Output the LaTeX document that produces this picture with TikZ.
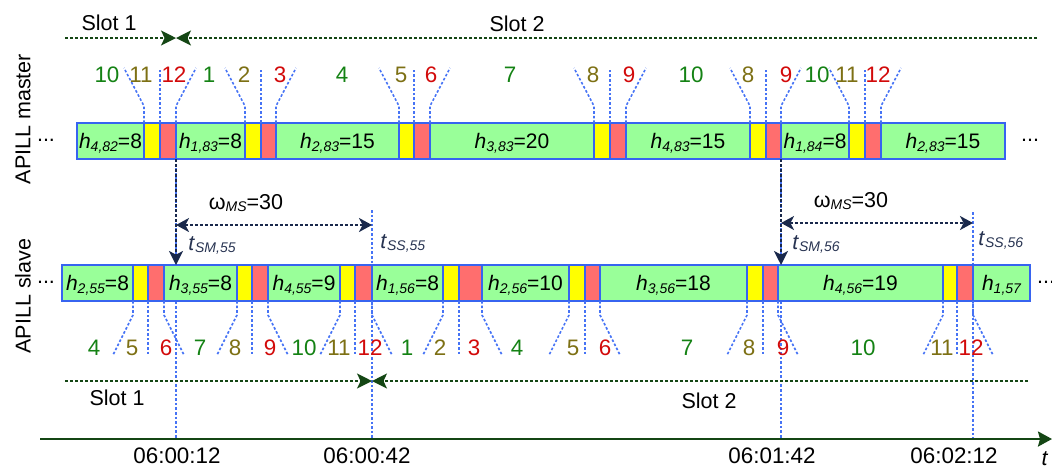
\documentclass[tikz,border=0pt]{standalone}
\usepackage{fontspec}
\setmainfont{Liberation Sans}
\usetikzlibrary{arrows.meta}

\definecolor{segblue}{RGB}{55,100,240}
\definecolor{guideblue}{RGB}{70,115,245}
\definecolor{segG}{RGB}{153,255,153}
\definecolor{segY}{RGB}{255,255,0}
\definecolor{segR}{RGB}{255,110,110}
\definecolor{numG}{RGB}{20,130,20}
\definecolor{numO}{RGB}{125,112,20}
\definecolor{numR}{RGB}{210,10,10}
\definecolor{navy}{RGB}{25,40,75}
\definecolor{tlab}{RGB}{40,52,82}
\definecolor{dkgreen}{RGB}{20,70,20}

\pgfdeclarelayer{behind}
\pgfsetlayers{behind,main}

% italic subscript
\newcommand\sbs[1]{\raisebox{-1.4pt}{\fontsize{7}{8}\selectfont\itshape #1}}
% one timeline segment: name, style, left x, right x, centre y, text
\newcommand\segbox[6]{%
  \pgfmathsetmacro\sgcx{(#3+#4)/2}%
  \pgfmathsetmacro\sgw{(#4-#3)/2}%
  \node[#2, minimum width=\sgw pt] (#1) at (\sgcx,#5) {#6};}

\begin{document}
\begin{tikzpicture}[x=0.5pt,y=-0.5pt,
  font=\fontsize{10.75}{13}\selectfont,
  seg/.style={draw=segblue, line width=1pt, inner sep=0pt, outer sep=0pt,
    minimum height=18pt, text height=7.5pt, text depth=0pt,
    font=\fontsize{10.5}{12}\selectfont},
  gseg/.style={seg, fill=segG},
  yseg/.style={seg, fill=segY},
  rseg/.style={seg, fill=segR},
  guide/.style={draw=guideblue, line width=0.8pt, dash pattern=on 1.3pt off 1pt},
  numG/.style={text=numG, anchor=base, font=\fontsize{11.2}{13}\selectfont},
  numO/.style={text=numO, anchor=base, font=\fontsize{11.2}{13}\selectfont},
  numR/.style={text=numR, anchor=base, font=\fontsize{11.2}{13}\selectfont},
  slotline/.style={draw=dkgreen, line width=1pt, dash pattern=on 1.5pt off 1pt,
    -{Stealth[length=7.5pt,width=7.5pt,inset=1.8pt]}},
  warrow/.style={draw=navy, line width=0.9pt, dash pattern=on 1.5pt off 1pt,
    {Stealth[length=6.5pt,width=7pt,inset=1.8pt]}-{Stealth[length=6.5pt,width=7pt,inset=1.8pt]}},
  varrow/.style={draw=navy, line width=0.9pt, dash pattern=on 1.5pt off 1pt,
    -{Stealth[length=7pt,width=7pt,inset=1.8pt]}},
  tlabel/.style={text=tlab, anchor=base west, inner sep=0pt},
  plain/.style={anchor=base, inner sep=0pt},
  clock/.style={plain, font=\fontsize{11.2}{13}\selectfont},
  rowtitle/.style={rotate=90, inner sep=0pt}
]
\useasboundingbox (0,0) rectangle (1052,468);

% time axis
\coordinate (ax0) at (40,439);
\coordinate (ax1) at (1052,439);
\draw[dkgreen, line width=1.2pt, -{Stealth[length=7pt,width=7.5pt,inset=1pt]}] (ax0) -- (ax1);

% reference heights
\coordinate (wa) at (0,225);
\coordinate (wb) at (0,223);

% ---------------- master timeline ----------------
\segbox{mG1}{gseg}{77}{144}{141}{\textit{h}\sbs{4,82}=8}
\segbox{mY1}{yseg}{144}{160}{141}{}
\segbox{mR1}{rseg}{160}{176}{141}{}
\segbox{mG2}{gseg}{176}{245}{141}{\textit{h}\sbs{1,83}=8}
\segbox{mY2}{yseg}{245}{261}{141}{}
\segbox{mR2}{rseg}{261}{276}{141}{}
\segbox{mG3}{gseg}{276}{399}{141}{\textit{h}\sbs{2,83}=15}
\segbox{mY3}{yseg}{399}{414}{141}{}
\segbox{mR3}{rseg}{414}{430}{141}{}
\segbox{mG4}{gseg}{430}{594}{141}{\textit{h}\sbs{3,83}=20}
\segbox{mY4}{yseg}{594}{610}{141}{}
\segbox{mR4}{rseg}{610}{626}{141}{}
\segbox{mG5}{gseg}{626}{750}{141}{\textit{h}\sbs{4,83}=15}
\segbox{mY5}{yseg}{750}{766}{141}{}
\segbox{mR5}{rseg}{766}{781}{141}{}
\segbox{mG6}{gseg}{781}{849}{141}{\textit{h}\sbs{1,84}=8}
\segbox{mY6}{yseg}{849}{865}{141}{}
\segbox{mR6}{rseg}{865}{881}{141}{}
\segbox{mG7}{gseg}{881}{1005}{141}{\textit{h}\sbs{2,83}=15}

% ---------------- slave timeline ----------------
\segbox{sG1}{gseg}{62}{133}{283}{\textit{h}\sbs{2,55}=8}
\segbox{sY1}{yseg}{133}{148}{283}{}
\segbox{sR1}{rseg}{148}{164}{283}{}
\segbox{sG2}{gseg}{164}{237}{283}{\textit{h}\sbs{3,55}=8}
\segbox{sY2}{yseg}{237}{252}{283}{}
\segbox{sR2}{rseg}{252}{268}{283}{}
\segbox{sG3}{gseg}{268}{340}{283}{\textit{h}\sbs{4,55}=9}
\segbox{sY3}{yseg}{340}{355}{283}{}
\segbox{sR3}{rseg}{355}{372}{283}{}
\segbox{sG4}{gseg}{372}{443}{283}{\textit{h}\sbs{1,56}=8}
\segbox{sY4}{yseg}{443}{459}{283}{}
\segbox{sR4}{rseg}{459}{482}{283}{}
\segbox{sG5}{gseg}{482}{569}{283}{\textit{h}\sbs{2,56}=10}
\segbox{sY5}{yseg}{569}{585}{283}{}
\segbox{sR5}{rseg}{585}{600}{283}{}
\segbox{sG6}{gseg}{600}{747}{283}{\textit{h}\sbs{3,56}=18}
\segbox{sY6}{yseg}{747}{763}{283}{}
\segbox{sR6}{rseg}{763}{778}{283}{}
\segbox{sG7}{gseg}{778}{943}{283}{\textit{h}\sbs{4,56}=19}
\segbox{sY7}{yseg}{943}{957}{283}{}
\segbox{sR7}{rseg}{957}{973}{283}{}
\segbox{sG8}{gseg}{973}{1030}{283}{\textit{h}\sbs{1,57}}

% long time markers down to the axis, kept behind the segments
\begin{pgfonlayer}{behind}
\draw[guide] (mR1.south east) -- (mR1.south east |- ax0);
\draw[guide] (mR5.south east) -- (mR5.south east |- ax0);
\draw[guide] ([yshift=27.5pt]sR3.north east) -- (sR3.south east |- ax0);
\draw[guide] ([yshift=26.5pt]sR7.north east) -- (sR7.south east |- ax0);
\end{pgfonlayer}

% guide lines from phase boundaries to the phase numbers
\foreach \k in {1,...,6} {
  \draw[guide] (mY\k.north west) -- ++(0,-17) -- ++(-20,-38);
  \draw[guide] (mY\k.north east) -- ++(0,-55);
  \draw[guide] (mR\k.north east) -- ++(0,-17) -- ++(20,-38);
}
\foreach \k in {1,...,7} {
  \draw[guide] (sY\k.south west) -- ++(0,14) -- ++(-20,40);
  \draw[guide] (sY\k.south east) -- ++(0,54);
  \draw[guide] (sR\k.south east) -- ++(0,14) -- ++(20,40);
}

% phase numbers
\foreach \t/\x/\c [count=\i] in {10/107/G, 11/141/O, 12/174/R, 1/209/G, 2/244/O,
    3/280/R, 4/342/G, 5/401/O, 6/431/R, 7/510/G, 8/593/O, 9/629/R, 10/691/G,
    8/748/O, 9/786/R, 10/817/G, 11/847/O, 12/878/R}
  \node[num\c, inner sep=0pt] (mn\i) at (\x,82) {\t};
\foreach \t/\x/\c [count=\i] in {4/94/G, 5/132/O, 6/166/R, 7/200/G, 8/235/O,
    9/270/R, 10/304/G, 11/339/O, 12/370/R, 1/407/G, 2/440/O, 3/474/R, 4/517/G,
    5/573/O, 6/605/R, 7/687/G, 8/749/O, 9/783/R, 10/863/G, 11/942/O, 12/971/R}
  \node[num\c, inner sep=0pt] (sn\i) at (\x,355) {\t};

% continuation dots
\node[plain] (mdl) at (46,141) {...};
\node[plain] (mdr) at (1030,141) {...};
\node[plain] (sdl) at (46,283) {...};
\node[plain] (sdr) at (1046,283) {...};

% row titles
\node[rowtitle] (tm) at (23,119) {APILL master};
\node[rowtitle] (ts) at (23,296) {APILL slave};

% slot boundaries
\coordinate (sl1) at (65,38);
\coordinate (sm1) at (176,38);
\coordinate (sr1) at (1037,38);
\draw[slotline] (sl1) -- (sm1);
\draw[slotline] (sr1) -- (sm1);
\node[plain] (slt1) at (109,30) {Slot 1};
\node[plain] (slt2) at (517,31.5) {Slot 2};

\coordinate (sl2) at (65,381);
\coordinate (sm2) at (372,381);
\coordinate (sr2) at (1028,381);
\draw[slotline] (sl2) -- (sm2);
\draw[slotline] (sr2) -- (sm2);
\node[plain] (slb1) at (117,405) {Slot 1};
\node[plain] (slb2) at (709,408) {Slot 2};

% master-to-slave offsets
\draw[varrow] (mR1.south east) -- (mR1.south east |- sG2.north);
\draw[varrow] (mR5.south east) -- (mR5.south east |- sG7.north);
\draw[warrow] (mR1.south east |- wa) -- (sR3.east |- wa);
\draw[warrow] (mR5.south east |- wb) -- (sR7.east |- wb);
\node[plain] (w1) at (246,209) {ω\sbs{MS}=30};
\node[plain] (w2) at (851,207) {ω\sbs{MS}=30};
\node[tlabel] (tsm55) at (188,250) {\textit{t}\sbs{SM,55}};
\node[tlabel] (tss55) at (380,248) {\textit{t}\sbs{SS,55}};
\node[tlabel] (tsm56) at (792,249) {\textit{t}\sbs{SM,56}};
\node[tlabel] (tss56) at (978,245) {\textit{t}\sbs{SS,56}};

% axis labels
\node[clock] (c1) at (177,463) {06:00:12};
\node[clock] (c2) at (367,463) {06:00:42};
\node[clock] (c3) at (772,463) {06:01:42};
\node[clock] (c4) at (954,463) {06:02:12};
\node[plain] (tax) at (1045,465) {\textit{t}};
\end{tikzpicture}
\end{document}
